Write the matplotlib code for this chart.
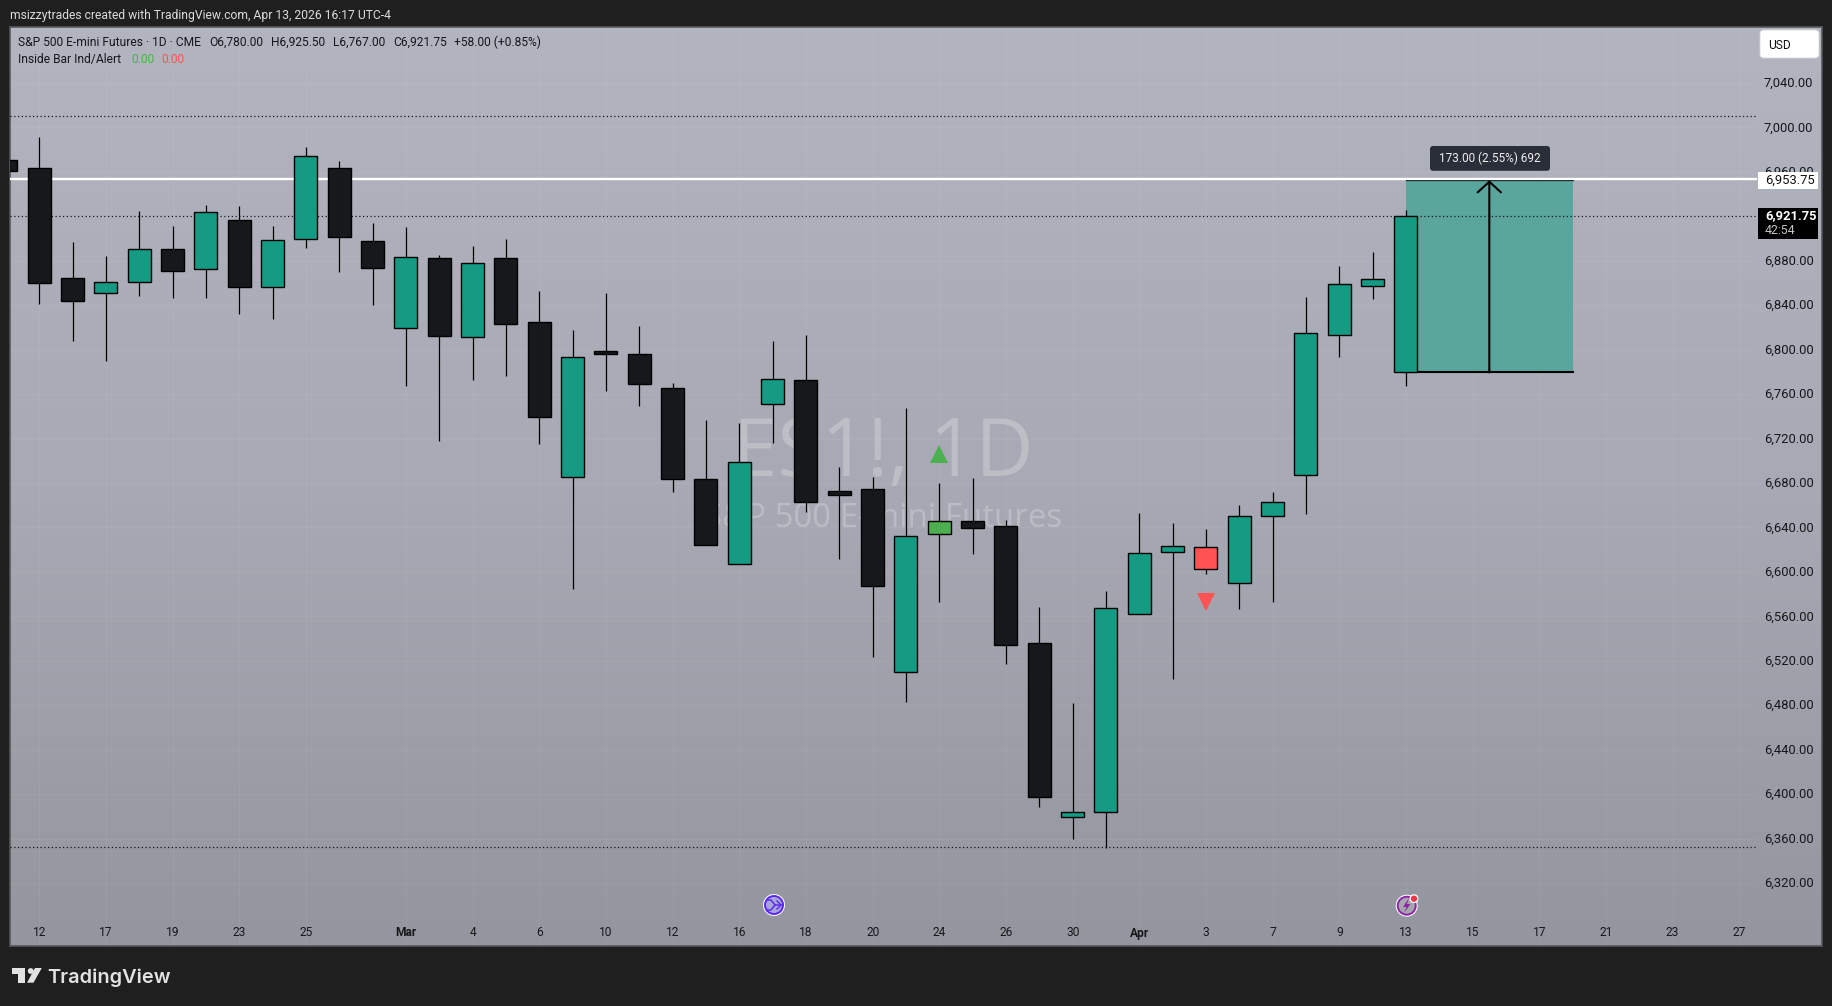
import numpy as np
import matplotlib
matplotlib.use('Agg')
import matplotlib.pyplot as plt
from matplotlib.colors import LinearSegmentedColormap
from matplotlib.patches import Circle, FancyBboxPatch, Polygon, Rectangle
from matplotlib.transforms import ScaledTranslation

W, H = 1833, 1006

# daily bars, first one is cut off by the left edge
bar_pos = list(range(-1, 42))
opens = [6970.5, 6963.25, 6864.25, 6851.25, 6861.25, 6890.25, 6873, 6916.5, 6856.75, 6899.25, 6963.25,
         6897.5, 6819.25, 6882.25, 6811.75, 6882.25, 6824.75, 6685.5, 6799, 6796, 6765.5, 6683.5,
         6607.5, 6751, 6773, 6672.5, 6674.25, 6509.5, 6634.5, 6645.5, 6641, 6535.75, 6379, 6384,
         6561.75, 6617.75, 6622, 6589.75, 6650, 6687.5, 6813, 6857.25, 6779.5]
highs = [6975, 6991.5, 6897, 6884.25, 6924.75, 6911.25, 6930.25, 6929.25, 6911.25, 6982.5, 6969.5,
         6913.75, 6910.25, 6885, 6893.25, 6899.75, 6852.75, 6817.75, 6851, 6821.5, 6770, 6737,
         6734, 6808, 6813, 6694, 6685, 6747.25, 6679.75, 6684.25, 6646.5, 6568, 6482, 6582.75,
         6653, 6644, 6638.5, 6660.25, 6672, 6847.75, 6875, 6887.75, 6925.5]
lows = [6955, 6841.5, 6807.75, 6790, 6848.25, 6846.75, 6846.75, 6832.5, 6828, 6891.75, 6870.25,
        6840.5, 6767.75, 6718, 6773, 6776, 6715, 6585, 6762.5, 6749, 6672, 6624.5,
        6607.5, 6715.75, 6654.25, 6612, 6523.75, 6483.25, 6573.25, 6616.5, 6517.5, 6388.5, 6360, 6351.5,
        6561.75, 6504, 6598, 6567, 6573.25, 6652.5, 6793, 6845.75, 6767]
closes = [6961, 6860.25, 6844.25, 6860.75, 6890.25, 6871.25, 6923.75, 6856.75, 6898.5, 6974, 6901.75,
          6873.75, 6883.25, 6812.75, 6877.75, 6823.5, 6739.25, 6793, 6796, 6769, 6683.5, 6624.5,
          6699, 6774, 6663.25, 6669.5, 6587.5, 6632, 6645.5, 6639.75, 6534.5, 6397, 6384, 6567.25,
          6616.75, 6623, 6603, 6650, 6662.5, 6815, 6859.5, 6863.5, 6920.25]

# inside bar indicator
inside_up_bar = [27]
inside_up_marker = [6706]
inside_down_bar = [35]
inside_down_marker = [6572.5]

price_ticks = list(range(6320, 7041, 40))
price_labels = [f'{p:,}.00' for p in price_ticks]
time_ticks = [0, 2, 4, 6, 8, 11, 13, 15, 17, 19, 21, 23, 25, 27, 29, 31, 33, 35, 37, 39, 41, 43, 45, 47, 49, 51]
time_labels = ['12', '17', '19', '23', '25', 'Mar', '4', '6', '10', '12', '16', '18', '20', '24', '26', '30',
               'Apr', '3', '7', '9', '13', '15', '17', '21', '23', '27']

dotted_levels = [7010.5, 6920.25, 6352]
white_level = 6953.25
measure_low, measure_high = 6779.5, 6952.5
measure_left, measure_right = 41, 46

UP = '#159b84'
DOWN = '#17181b'
GREEN = '#4caf50'
RED = '#ff5252'
FONT = 'Roboto'
INK = '#15171a'


def px(size):
    return size * 0.72


fig = plt.figure(figsize=(W / 100, H / 100), dpi=100, facecolor='#1f1f1f')

# pane background, price scale included
bg = fig.add_axes([10 / W, 1 - 946 / H, 1812 / W, 919 / H], zorder=0)
cmap = LinearSegmentedColormap.from_list('pane', ['#b2b5c0', '#a7aab4', '#93969e'])
bg.imshow(np.linspace(0, 1, 256).reshape(-1, 1), aspect='auto', cmap=cmap)
bg.set_xticks([])
bg.set_yticks([])
for s in bg.spines.values():
    s.set_color('#55575b')
    s.set_linewidth(1.2)

ax = fig.add_axes([10 / W, 1 - 945.5 / H, 1747 / W, 918 / H], zorder=1)
ax.patch.set_alpha(0)
ax.set_xlim(-0.878, 51.53)
ax.set_ylim(6263.7, 7090)
for s in ax.spines.values():
    s.set_visible(False)

ax.yaxis.tick_right()
ax.set_yticks(price_ticks)
ax.set_yticklabels(price_labels, fontname=FONT, fontsize=px(13), color=INK)
ax.set_xticks(time_ticks)
ax.set_xticklabels(time_labels, fontname=FONT, fontsize=px(12), color=INK)
for t in ax.get_xticklabels():
    if t.get_text() in ('Mar', 'Apr'):
        t.set_fontweight('bold')
ax.tick_params(axis='y', length=0, pad=px(7))
ax.tick_params(axis='x', length=0, pad=px(-19))
ax.grid(True, color='white', alpha=0.05, lw=0.8)
ax.set_axisbelow(True)
lift = ScaledTranslation(0, 1 / 100, fig.dpi_scale_trans)
for t in ax.get_yticklabels():
    t.set_transform(t.get_transform() + lift)

# watermark
ax.text(0.5, 0.535, 'ES1!, 1D', transform=ax.transAxes, ha='center', va='center', fontname='Open Sans',
        fontsize=px(80), color='white', alpha=0.24, zorder=1)
ax.text(0.5, 0.465, 'S&P 500 E-mini Futures', transform=ax.transAxes, ha='center', va='center', fontname='Open Sans',
        fontsize=px(33), color='white', alpha=0.24, zorder=1)

# long position / measure box
ax.add_patch(Rectangle((measure_left, measure_low), measure_right - measure_left, measure_high - measure_low,
                       facecolor='#5aa59c', edgecolor='none', zorder=1.5))
ax.plot([measure_left, measure_right], [measure_high, measure_high], color='black', lw=0.9, zorder=2)
ax.plot([measure_left, measure_right], [measure_low, measure_low], color='black', lw=1.5, zorder=2)
mid = (measure_left + measure_right) / 2
ax.annotate('', xy=(mid, measure_high), xytext=(mid, measure_low), zorder=2,
            arrowprops=dict(arrowstyle='->,head_length=0.55,head_width=0.6', lw=1.5, color='black',
                            shrinkA=0, shrinkB=0, mutation_scale=14))

for level in dotted_levels:
    ax.axhline(level, color='#15171a', lw=0.9, ls=(0, (1, 2)), zorder=2)
ax.axhline(white_level, color='white', lw=1.7, zorder=2)

# candles
body_colors = [UP if c >= o else DOWN for o, c in zip(opens, closes)]
for b in inside_up_bar:
    body_colors[bar_pos.index(b)] = GREEN
for b in inside_down_bar:
    body_colors[bar_pos.index(b)] = RED
ax.vlines(bar_pos, lows, highs, color='black', lw=0.9, zorder=3)
ax.bar(bar_pos, np.abs(np.array(closes) - np.array(opens)), bottom=np.minimum(opens, closes), width=0.69,
       color=body_colors, edgecolor='black', linewidth=1.0, zorder=4)

ax.plot(inside_up_bar, inside_up_marker, '^', color=GREEN, ms=px(18), mew=0, zorder=5)
ax.plot(inside_down_bar, inside_down_marker, 'v', color=RED, ms=px(18), mew=0, zorder=5)

# everything around the chart, in screen pixels
ov = fig.add_axes([0, 0, 1, 1], zorder=5)
ov.set_xlim(0, W)
ov.set_ylim(H, 0)
ov.axis('off')


def label(x, y, s, size=12.0, color=INK, **kw):
    kw.setdefault('ha', 'left')
    kw.setdefault('va', 'center')
    kw.setdefault('fontname', FONT)
    ov.text(x, y, s, fontsize=px(size), color=color, **kw)


label(10, 15, 'msizzytrades created with TradingView.com, Apr 13, 2026 16:17 UTC-4', size=12.1, color='#dcdcdc')
label(18, 42, 'S&P 500 E-mini Futures · 1D · CME')
label(209.5, 42, 'O6,780.00')
label(271.5, 42, 'H6,925.50')
label(333.5, 42, 'L6,767.00')
label(393, 42, 'C6,921.75')
label(454, 42, '+58.00 (+0.85%)')
label(18, 59.5, 'Inside Bar Ind/Alert')
label(131, 59.5, '0.00', color=GREEN)
label(161, 59.5, '0.00', color=RED)

ov.add_patch(FancyBboxPatch((1762, 32), 55, 24, boxstyle='round,pad=2,rounding_size=4', fc='white', ec='#d8d9de', lw=0.6))
label(1768, 45, 'USD', size=12, color='#111111')

ov.add_patch(Rectangle((1758, 172), 60, 16.8, fc='white', ec='none'))
label(1765, 180, '6,953.75', size=13, color='#111111')
ov.add_patch(Rectangle((1758, 208), 60, 30.8, fc='black', ec='none'))
label(1765, 216, '6,921.75', size=13, color='white', fontweight='bold')
label(1765, 230, '42:54', color='#c4c4c4', size=12.3)

ov.add_patch(FancyBboxPatch((1432, 148), 116, 20.8, boxstyle='round,pad=2,rounding_size=3', fc='#2a2e39', ec='none'))
label(1490, 158, '173.00 (2.55%) 692', color='#eeeeee', size=11.8, ha='center')

# event icons on the time axis
ov.add_patch(Circle((774, 905), 11, fc='white', ec='none'))
ov.add_patch(Circle((774, 905), 9, fc='#a8a6d8', ec='#5a24f5', lw=1.4))
ov.plot([767, 771, 775, 781], [900, 900, 905, 905], color='#5a24f5', lw=1)
ov.plot([767, 771, 775], [910, 910, 905], color='#5a24f5', lw=1)
ov.plot([777, 781, 777], [901, 905, 909], color='#5a24f5', lw=1)

ov.add_patch(Circle((1406.7, 905.7), 11, fc='white', ec='none'))
ov.add_patch(Circle((1406.7, 905.7), 9, fc='#a5a6ae', ec='#8e24aa', lw=1.4))
ov.add_patch(Polygon([(1409, 898), (1403, 907), (1406.5, 907), (1404, 913), (1410.5, 904), (1407, 904)], fc='#8e24aa', ec='none'))
ov.add_patch(Circle((1414, 898.7), 4.5, fc='white', ec='none'))
ov.add_patch(Circle((1414, 898.7), 3.2, fc='#f23645', ec='none'))

# TradingView logo
LOGO = '#e2e2e2'
ov.add_patch(Polygon([(12.3, 968), (25, 968), (25, 982.7), (18.3, 982.7), (18.3, 974), (12.3, 974)], fc=LOGO, ec='none'))
ov.add_patch(Circle((30.7, 971), 2.9, fc=LOGO, ec='none'))
ov.add_patch(Polygon([(35, 968), (41.8, 968), (33.5, 982.7), (27, 982.7)], fc=LOGO, ec='none'))
label(47, 977.5, 'TradingView', size=20, color=LOGO, fontname='Inter', fontweight='semibold')

fig.savefig('out.png', dpi=100, facecolor=fig.get_facecolor())
